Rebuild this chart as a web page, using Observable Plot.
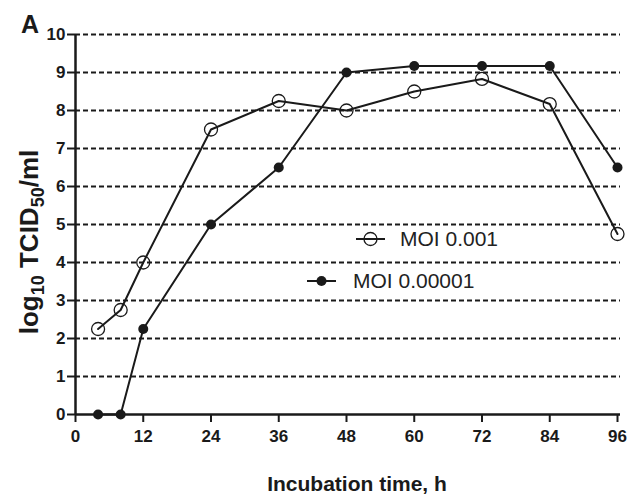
<!DOCTYPE html>
<html>
<head>
<meta charset="utf-8">
<script src="https://cdn.jsdelivr.net/npm/d3@7"></script>
<script src="https://cdn.jsdelivr.net/npm/@observablehq/plot@0.6"></script>
<style>
  html, body { margin: 0; padding: 0; background: #fff; }
  #chart { position: relative; width: 636px; height: 494px; }
</style>
</head>
<body>
<div id="chart"></div>
<script>
// Data
const hours = [4, 8, 12, 24, 36, 48, 60, 72, 84, 96];
const moi001 = [2.25, 2.75, 4.0, 7.5, 8.25, 8.0, 8.5, 8.83, 8.17, 4.75];
const moi00001 = [0, 0, 2.25, 5.0, 6.5, 9.0, 9.17, 9.17, 9.17, 6.5];
const seriesNames = ["MOI 0.001", "MOI 0.00001"];
const xTicks = [0, 12, 24, 36, 48, 60, 72, 84, 96];
const yTicks = [0, 1, 2, 3, 4, 5, 6, 7, 8, 9, 10];
const panelLabel = "A";
const xTitle = "Incubation time, h";

const ink = "#1a1a1a";
const dataOpen = hours.map((h, i) => ({hour: h, value: moi001[i]}));
const dataFilled = hours.map((h, i) => ({hour: h, value: moi00001[i]}));

const chart = Plot.plot({
  width: 636,
  height: 494,
  marginLeft: 75,
  marginRight: 19,
  marginTop: 34,
  marginBottom: 80,
  style: {fontFamily: "'Liberation Sans', Arial, sans-serif", color: ink, background: "#fff"},
  x: {domain: [0, 96], ticks: xTicks, label: null},
  y: {domain: [0, 10], ticks: yTicks, label: null},
  marks: [
    Plot.ruleY(yTicks.filter(d => d > 0), {stroke: ink, strokeWidth: 2, strokeDasharray: "5,3", insetRight: -3}),
    Plot.axisX({ticks: xTicks, tickSize: 8, tickPadding: 7, fontSize: 17, fontWeight: "bold", fill: ink, stroke: ink, strokeWidth: 2, label: null}),
    Plot.axisY({ticks: yTicks, tickSize: 8, tickPadding: 2, fontSize: 17, fontWeight: "bold", fill: ink, stroke: ink, strokeWidth: 2, label: null}),
    Plot.ruleY([0], {stroke: ink, strokeWidth: 2.5, insetRight: -3}),
    Plot.ruleX([0], {stroke: ink, strokeWidth: 2.5}),
    Plot.line(dataOpen, {x: "hour", y: "value", stroke: ink, strokeWidth: 2}),
    Plot.dot(dataOpen, {x: "hour", y: "value", r: 6.5, stroke: ink, fill: "none", strokeWidth: 1.3}),
    Plot.line(dataFilled, {x: "hour", y: "value", stroke: ink, strokeWidth: 2}),
    Plot.dot(dataFilled, {x: "hour", y: "value", r: 5, fill: ink, stroke: "none"})
  ]
});

const svg = d3.select(chart);
const font = "'Liberation Sans', Arial, sans-serif";

// Panel letter
svg.append("text")
  .attr("x", 21).attr("y", 33)
  .attr("text-anchor", "start")
  .attr("font-family", font).attr("font-weight", "bold").attr("font-size", 25)
  .attr("fill", ink)
  .text(panelLabel);

// Y axis title with subscripts
const yt = svg.append("text")
  .attr("transform", "translate(38,242) rotate(-90)")
  .attr("text-anchor", "middle")
  .attr("font-family", font).attr("font-weight", "bold").attr("font-size", 26)
  .attr("fill", ink);
yt.append("tspan").text("log");
yt.append("tspan").attr("font-size", 18).attr("dy", 6).text("10");
yt.append("tspan").attr("dy", -6).text(" TCID");
yt.append("tspan").attr("font-size", 18).attr("dy", 6).text("50");
yt.append("tspan").attr("dy", -6).text("/ml");

// X axis title
svg.append("text")
  .attr("x", 357).attr("y", 491)
  .attr("text-anchor", "middle")
  .attr("font-family", font).attr("font-weight", "bold").attr("font-size", 21)
  .attr("fill", ink)
  .text(xTitle);

// Legend
const legend = [
  {name: seriesNames[0], x0: 356, x1: 385, cy: 239, tx: 400, ty: 246, open: true},
  {name: seriesNames[1], x0: 307, x1: 336, cy: 281, tx: 353, ty: 288, open: false}
];
legend.forEach(d => {
  const g = svg.append("g");
  g.append("line").attr("x1", d.x0).attr("x2", d.x1).attr("y1", d.cy).attr("y2", d.cy)
    .attr("stroke", ink).attr("stroke-width", 2);
  g.append("circle").attr("cx", (d.x0 + d.x1) / 2).attr("cy", d.cy)
    .attr("r", d.open ? 6.5 : 5)
    .attr("fill", d.open ? "none" : ink)
    .attr("stroke", d.open ? ink : "none")
    .attr("stroke-width", 1.3);
  g.append("text").attr("x", d.tx).attr("y", d.ty)
    .attr("text-anchor", "start")
    .attr("font-family", font).attr("font-size", 21).attr("fill", "#222")
    .text(d.name);
});

document.getElementById("chart").appendChild(chart);
</script>
</body>
</html>
